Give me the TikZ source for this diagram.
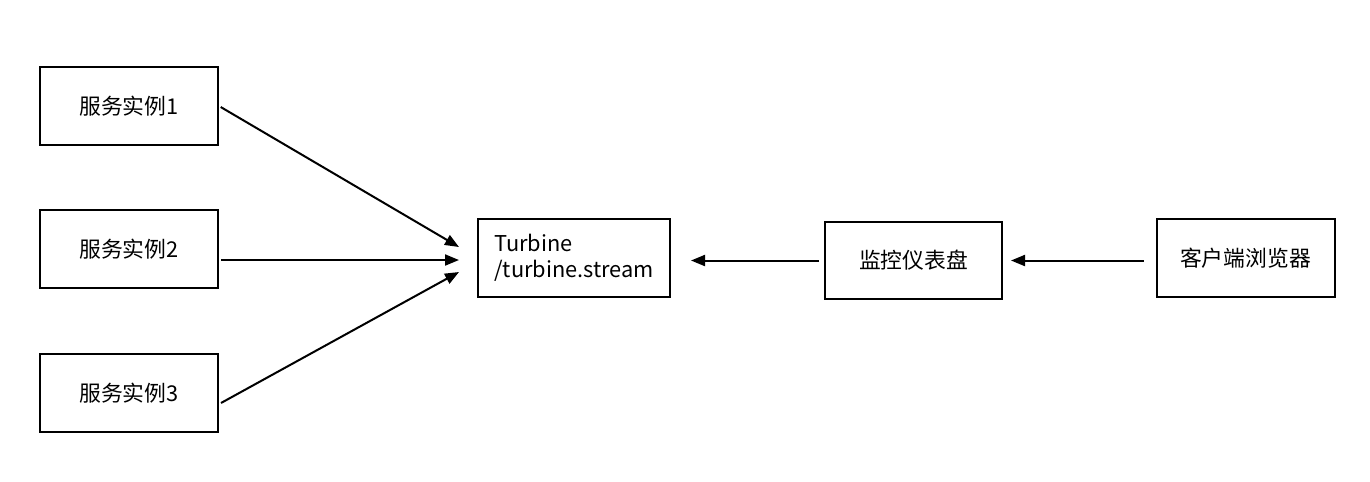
\documentclass[tikz,border=0pt]{standalone}
\usepackage{fontspec}
\setmainfont{Noto Sans CJK SC}
\usetikzlibrary{positioning}
\usetikzlibrary{calc}
\usetikzlibrary{arrows, arrows.meta}

\tikzset{
  box/.style={draw, line width=0.2mm, minimum width=1.78cm, minimum height=0.78cm,
    inner sep=0pt, align=left, font=\fontsize{6.2pt}{7.5pt}\selectfont},
  arr/.style={line width=0.2mm, -{Triangle[length=1.4mm,width=1.1mm]}}
}

\begin{document}
\begin{tikzpicture}
  \useasboundingbox (0,0) rectangle (13.70,-4.81);
  % service instances
  \node[box] (s1) at (1.29,-1.06) {服务实例1};
  \node[box] (s2) at (1.29,-2.49) {服务实例2};
  \node[box] (s3) at (1.29,-3.93) {服务实例3};
  % turbine and the rest
  \node[box, minimum width=1.92cm] (turbine) at (5.74,-2.58) {Turbine\\/turbine.stream};
  \node[box, minimum width=1.77cm, minimum height=0.77cm] (dash) at (9.135,-2.605) {监控仪表盘};
  \node[box] (client) at (12.455,-2.58) {客户端浏览器};

  \coordinate (in1) at ($(turbine.west)+(-0.18,0.11)$);
  \coordinate (in2) at ($(turbine.west)+(-0.18,-0.02)$);
  \coordinate (in3) at ($(turbine.west)+(-0.18,-0.14)$);
  \coordinate (out3) at ($(s3.east)+(0.02,-0.10)$);

  \draw[arr, shorten <=0.02cm] (s1.east) -- (in1);
  \draw[arr, shorten <=0.02cm] (s1.east |- in2) -- (in2);
  \draw[arr] (out3) -- (in3);
  \draw[arr, shorten <=0.05cm, shorten >=0.2cm] (dash.west) -- (dash.west -| turbine.east);
  \draw[arr, shorten <=0.12cm, shorten >=0.08cm] (client.west |- dash.west) -- (dash.east);
\end{tikzpicture}
\end{document}
